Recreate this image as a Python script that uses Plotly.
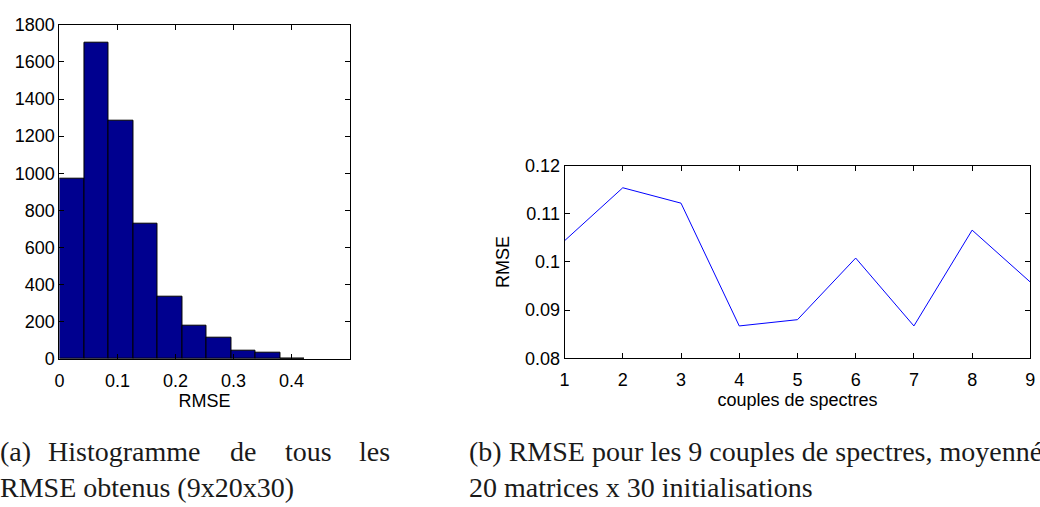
import plotly.graph_objects as go

# Histogram of all RMSE values (9 pairs x 20 matrices x 30 initialisations)
bin_centers = [0.0211, 0.0634, 0.1057, 0.1480, 0.1902, 0.2325, 0.2748, 0.3170, 0.3593, 0.4016]
bin_counts = [970, 1702, 1285, 727, 338, 179, 116, 45, 35, 3]
bin_width = 0.0423
hist_ticks = [0, 0.1, 0.2, 0.3, 0.4]
count_ticks = [0, 200, 400, 600, 800, 1000, 1200, 1400, 1600, 1800]

# Mean RMSE for each of the 9 spectrum pairs
pairs = [1, 2, 3, 4, 5, 6, 7, 8, 9]
pair_rmse = [0.1044, 0.1154, 0.1122, 0.0867, 0.0880, 0.1008, 0.0867, 0.1066, 0.0958]
rmse_ticks = [0.08, 0.09, 0.10, 0.11, 0.12]
rmse_tick_text = ["0.08", "0.09", "0.1", "0.11", "0.12"]

W, H = 1040, 507
SANS = "Liberation Sans"
SERIF = "Liberation Serif"


def px_x(p):
    return p / W


def px_y(p):
    return 1 - p / H


fig = go.Figure()

fig.add_trace(go.Bar(
    x=bin_centers, y=bin_counts, width=bin_width,
    marker=dict(color="#00008F", line=dict(color="black", width=1)),
    xaxis="x", yaxis="y", showlegend=False,
))

fig.add_trace(go.Scatter(
    x=pairs, y=pair_rmse, mode="lines",
    line=dict(color="#0000FF", width=1),
    xaxis="x2", yaxis="y2", showlegend=False,
))

axis_common = dict(
    showline=True, linecolor="black", linewidth=1, mirror="ticks",
    ticks="inside", ticklen=5, tickcolor="black", tickwidth=1,
    showgrid=False, zeroline=False, ticklabeloverflow="allow",
    tickfont=dict(family=SANS, size=18, color="black"),
)
title_font = dict(family=SANS, size=18, color="black")

fig.update_layout(
    width=W, height=H,
    margin=dict(l=0, r=0, t=0, b=0),
    paper_bgcolor="white", plot_bgcolor="white",
    bargap=0,
    xaxis=dict(
        domain=[px_x(55), px_x(348)], range=[0, 0.5],
        tickvals=hist_ticks, ticktext=["0", "0.1", "0.2", "0.3", "0.4"],
        ticklabelstandoff=5,
        title=dict(text="RMSE", font=title_font, standoff=4),
        anchor="y", **axis_common,
    ),
    yaxis=dict(
        domain=[px_y(363.5), px_y(15.3)], range=[0, 1800],
        tickvals=count_ticks,
        anchor="x", **axis_common,
    ),
    xaxis2=dict(
        domain=[px_x(565), px_x(1035.3)], range=[1, 9],
        tickvals=pairs, ticklabelstandoff=5,
        title=dict(text="couples de spectres", font=title_font, standoff=4),
        anchor="y2", **axis_common,
    ),
    yaxis2=dict(
        domain=[px_y(362.5), px_y(162)], range=[0.08, 0.12],
        tickvals=rmse_ticks, ticktext=rmse_tick_text,
        title=dict(text="RMSE", font=title_font, standoff=10),
        anchor="x2", **axis_common,
    ),
)

# Sub-figure captions (first line of (a) is justified word by word)
cap_font = dict(family=SERIF, size=28, color="#1a1a1a")
line1_y, line2_y = 460, 497
left_words = [("(a)", -7), ("Histogramme", 41), ("de", 225), ("tous", 281), ("les", 355)]
for word, x0 in left_words:
    fig.add_annotation(text=word, x=px_x(x0), y=px_y(line1_y), xref="paper", yref="paper",
                       xanchor="left", yanchor="middle", showarrow=False, font=cap_font)
fig.add_annotation(text="RMSE obtenus (9x20x30)", x=px_x(-7), y=px_y(line2_y),
                   xref="paper", yref="paper", xanchor="left", yanchor="middle",
                   showarrow=False, font=cap_font)
fig.add_annotation(text="(b) RMSE pour les 9 couples de spectres, moyennés sur les",
                   x=px_x(466), y=px_y(line1_y), xref="paper", yref="paper",
                   xanchor="left", yanchor="middle", showarrow=False, font=cap_font)
fig.add_annotation(text="20 matrices x 30 initialisations", x=px_x(466), y=px_y(line2_y),
                   xref="paper", yref="paper", xanchor="left", yanchor="middle",
                   showarrow=False, font=cap_font)

fig.write_html("out.html")
